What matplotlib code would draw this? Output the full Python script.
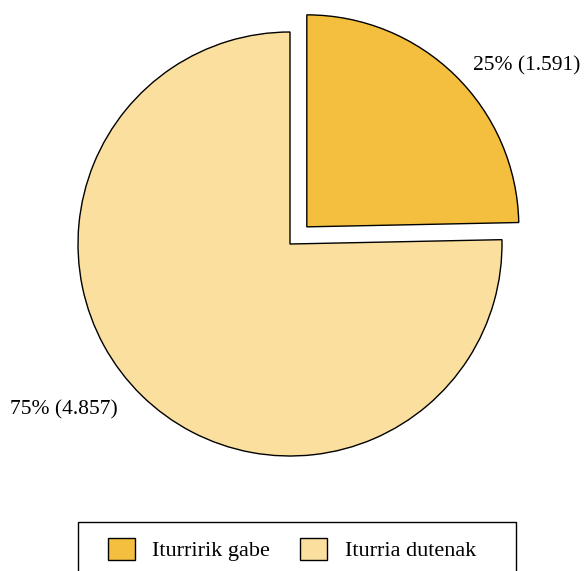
import matplotlib
matplotlib.use("Agg")
import matplotlib.pyplot as plt
from matplotlib.patches import Rectangle

categories = ["Iturririk gabe", "Iturria dutenak"]
values = [1591, 4857]
labels = ["25% (1.591)", "75% (4.857)"]
colors = ["#F4BE3E", "#FADF9F"]

plt.rcParams['font.family'] = ['Liberation Serif', 'DejaVu Serif']

W, H = 584, 571
fig = plt.figure(figsize=(W/100, H/100), dpi=100)
ax = fig.add_axes([0, 0, 1, 1])

R = 212
wedges, _ = ax.pie(values, startangle=90, counterclock=False, colors=colors,
                   explode=[24, 0], center=(290, H-244), radius=R,
                   wedgeprops=dict(edgecolor='black', linewidth=1.0))
ax.set_xlim(0, W)
ax.set_ylim(0, H)
ax.set_aspect('equal')
ax.axis('off')

ax.text(527, H-66, labels[0], ha='center', va='center', fontsize=15.5)
ax.text(64, H-410, labels[1], ha='center', va='center', fontsize=15.5)

leg = fig.legend(wedges, categories, ncol=2, loc='center',
                 bbox_to_anchor=(292/W, 1-549.5/H), frameon=False,
                 fontsize=16, handlelength=1.2, handleheight=1.2,
                 handletextpad=0.8, columnspacing=1.35)
fig.patches.append(Rectangle((78/W, 0-6/H), 438/W, 55/H, transform=fig.transFigure,
                             facecolor='none', edgecolor='black', linewidth=1.0))

fig.savefig("out.png", dpi=100)
